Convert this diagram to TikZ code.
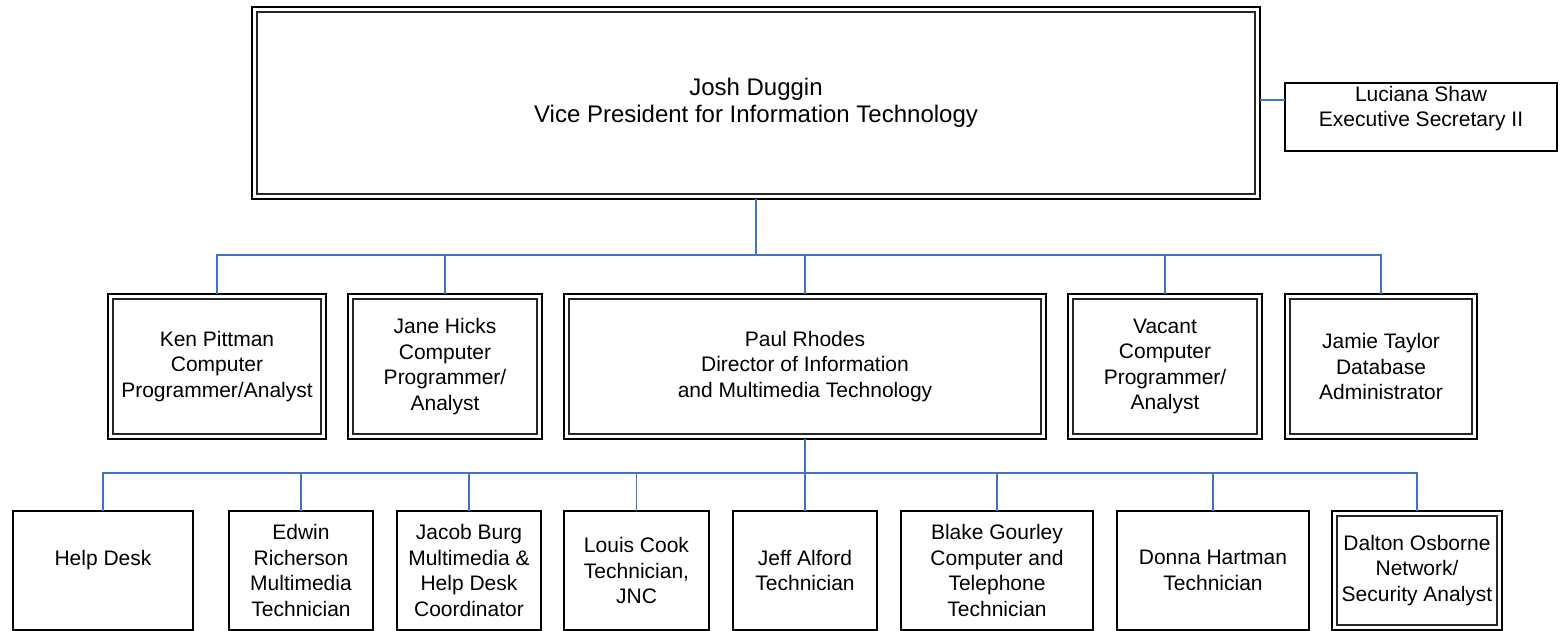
\documentclass[tikz,border=0pt]{standalone}
\usepackage{fontspec}
\setmainfont{Liberation Sans}
\usetikzlibrary{calc}
\definecolor{conn}{RGB}{68,114,196}
\begin{document}
\begin{tikzpicture}[x=1pt,y=-1pt,
  box/.style={draw=black, line width=2.2pt, rectangle, inner sep=0pt, outer sep=0pt,
    align=center, font=\fontsize{21}{25.5}\selectfont},
  dbox/.style={box, line width=2.6pt},
  innerline/.style={draw=black!85, line width=1.3pt},
  conn/.style={draw=conn, line width=1.6pt}]
\useasboundingbox (0,0) rectangle (1560,631);
% top level
\node[dbox, minimum width=1008pt, minimum height=192pt, font=\fontsize{24}{27.5}\selectfont] (vp) at (756,103)
  {Josh Duggin\\Vice President for Information Technology};
\node[box, minimum width=272pt, minimum height=68pt] (sec) at (1421,117)
  {Luciana Shaw\\Executive Secretary II\\[-4pt]\mbox{}};
% second row
\node[dbox, minimum width=218pt, minimum height=145pt] (ken) at (217,366.5)
  {Ken Pittman\\Computer\\Programmer/Analyst};
\node[dbox, minimum width=194pt, minimum height=145pt] (jane) at (445,366.5)
  {Jane Hicks\\Computer\\Programmer/\\Analyst};
\node[dbox, minimum width=482pt, minimum height=145pt] (paul) at (805,366.5)
  {Paul Rhodes\\Director of Information\\and Multimedia Technology};
\node[dbox, minimum width=194pt, minimum height=145pt] (vac) at (1165,366.5)
  {Vacant\\Computer\\Programmer/\\Analyst};
\node[dbox, minimum width=192pt, minimum height=145pt] (jamie) at (1381,366.5)
  {Jamie Taylor\\Database\\Administrator};
% bottom row
\node[box, minimum width=180pt, minimum height=119pt] (help) at (103,570.5)
  {Help Desk\\\mbox{}};
\node[box, minimum width=144pt, minimum height=119pt] (edwin) at (301,570.5)
  {Edwin\\Richerson\\Multimedia\\Technician};
\node[box, minimum width=144pt, minimum height=119pt] (jacob) at (469,570.5)
  {Jacob Burg\\Multimedia \&\\Help Desk\\Coordinator};
\node[box, minimum width=145pt, minimum height=119pt] (louis) at (636.5,570.5)
  {Louis Cook\\Technician,\\JNC};
\node[box, minimum width=144pt, minimum height=119pt] (jeff) at (805,570.5)
  {Jeff Alford\\Technician};
\node[box, minimum width=192pt, minimum height=119pt] (blake) at (997,570.5)
  {Blake Gourley\\Computer and\\Telephone\\Technician};
\node[box, minimum width=192pt, minimum height=119pt] (donna) at (1213,570.5)
  {Donna Hartman\\Technician};
\node[dbox, minimum width=170pt, minimum height=119pt] (dalton) at (1417,570.5)
  {Dalton Osborne\\Network/\\Security Analyst};
% inner lines of double boxes
\foreach \n in {vp,ken,jane,paul,vac,jamie,dalton}
  \draw[innerline] ($(\n.south west)+(5,-5)$) rectangle ($(\n.north east)+(-5,5)$);
% connectors
\coordinate (sy) at (0,100);
\coordinate (bus1) at (0,255);
\coordinate (bus2) at (0,473);
\draw[conn] (vp.east |- sy) -- (sec.west |- sy);
\draw[conn] (vp.south) -- (vp.south |- bus1);
\draw[conn] (ken.north) -- (ken.north |- bus1) -- (jamie.north |- bus1) -- (jamie.north);
\foreach \n in {jane,paul,vac}
  \draw[conn] (\n.north) -- (\n.north |- bus1);
\draw[conn] (paul.south) -- (paul.south |- bus2);
\draw[conn] (help.north) -- (help.north |- bus2) -- (dalton.north |- bus2) -- (dalton.north);
\foreach \n in {edwin,jacob,louis,jeff,blake,donna}
  \draw[conn] (\n.north) -- (\n.north |- bus2);
\end{tikzpicture}
\end{document}
